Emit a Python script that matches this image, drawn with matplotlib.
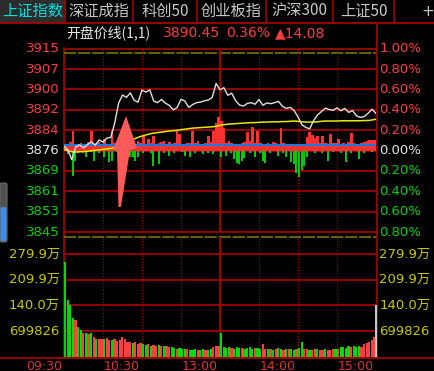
import matplotlib
matplotlib.use("Agg")
import matplotlib.pyplot as plt
import matplotlib.transforms as mtransforms
from matplotlib.patches import Polygon, Rectangle, FancyBboxPatch
import numpy as np

W, H = 435, 371

# ---- data ----
prev_close = 3876.37
last_price = 3890.45
open_price = 3878.5

tabs = ["上证指数", "深证成指", "科创50", "创业板指", "沪深300", "上证50"]
tab_edges = [0, 65, 133, 197, 266, 333, 394]

# price and average price, every 3 minutes from 09:30
price = [3878.0, 3876.6, 3872.9, 3877.7, 3878.5, 3877.4, 3878.6, 3879.7, 3878.4, 3880.4,
         3879.6, 3881.1, 3881.4, 3886.8, 3894.4, 3897.5, 3896.6, 3898.3, 3895.5, 3894.8,
         3899.4, 3898.6, 3899.5, 3895.2, 3894.6, 3895.8, 3894.4, 3893.6, 3891.9, 3892.7,
         3895.9, 3895.2, 3892.8, 3893.9, 3894.6, 3894.8, 3895.3, 3895.6, 3896.6, 3901.9,
         3899.5, 3900.3, 3897.4, 3898.2, 3895.4, 3893.7, 3893.3, 3894.3, 3894.6, 3894.0,
         3895.8, 3893.6, 3894.5, 3894.2, 3894.6, 3895.1, 3893.2, 3892.4, 3892.8, 3891.6,
         3889.2, 3886.2, 3885.2, 3884.6, 3887.8, 3889.9, 3891.2, 3892.5, 3892.0, 3891.7,
         3892.6, 3891.5, 3892.4, 3890.9, 3891.6, 3889.6, 3889.0, 3889.3, 3890.6, 3892.1,
         3890.45]
avg_price = [3876.8, 3876.3, 3875.9, 3875.8, 3875.9, 3876.0, 3876.1, 3876.3, 3876.4, 3876.6,
             3876.8, 3877.0, 3877.2, 3877.5, 3878.0, 3878.6, 3879.3, 3880.1, 3880.8, 3881.4,
             3881.9, 3882.3, 3882.7, 3883.0, 3883.2, 3883.4, 3883.6, 3883.8, 3883.9, 3884.1,
             3884.3, 3884.5, 3884.7, 3884.9, 3885.0, 3885.1, 3885.2, 3885.3, 3885.4, 3885.6,
             3886.0, 3886.2, 3886.4, 3886.5, 3886.6, 3886.7, 3886.8, 3886.9, 3887.0, 3887.0,
             3887.1, 3887.2, 3887.2, 3887.3, 3887.3, 3887.3, 3887.4, 3887.4, 3887.5, 3887.6,
             3887.5, 3887.3, 3887.2, 3887.2, 3887.2, 3887.3, 3887.5, 3887.6, 3887.6, 3887.6,
             3887.6, 3887.7, 3887.7, 3887.7, 3887.7, 3887.7, 3887.7, 3887.8, 3887.8, 3888.0,
             3888.3]

# red / green strength bars (index points), every 2 minutes
red_bars = [2.0, 2.4, 3.1, 7.4, 2.2, 2.6, 3.0, 2.1, 2.4, 3.4,
            7.4, 2.3, 2.8, 3.2, 2.5, 4.4, 2.6, 2.2, 7.4, 3.0,
            3.5, 2.7, 5.0, 3.1, 4.0, 2.4, 3.0, 2.6, 3.5, 2.8,
            5.5, 2.6, 4.4, 2.9, 5.5, 2.5, 2.8, 3.1, 3.6, 2.4,
            3.2, 2.5, 2.8, 7.4, 6.3, 2.6, 2.3, 3.0, 2.7, 7.4,
            2.9, 3.6, 2.5, 2.2, 3.0, 5.5, 3.4, 7.6, 10.6, 12.9,
            11.4, 8.4, 3.0, 3.6, 2.7, 2.3, 2.6, 2.4, 2.9, 3.2,
            7.0, 3.5, 8.9, 3.0, 7.4, 2.8, 2.3, 2.5, 2.9, 2.6,
            3.1, 2.7, 2.4, 8.6, 3.0, 2.6, 2.2, 2.5, 2.0, 1.8,
            1.9, 2.1, 2.6, 5.3, 7.2, 6.1, 4.6, 5.5, 3.0, 5.5,
            2.8, 2.5, 6.3, 2.9, 2.7, 4.4, 2.6, 2.8, 2.4, 3.1,
            6.7, 2.9, 2.6, 2.4, 3.0, 3.3, 3.6, 4.0, 4.1, 4.0]
green_bars = [0, 1.2, 0, 9.7, 4.0, 0.8, 0, 1.0, 2.5, 0,
              0.6, 4.0, 0, 0.9, 0, 2.5, 0, 4.4, 4.0, 0,
              0.7, 0, 0, 1.0, 0, 2.5, 2.5, 4.0, 2.5, 0,
              0.8, 0, 0, 1.1, 5.9, 0, 5.1, 0, 0.9, 0,
              2.1, 0, 1.0, 0, 0, 0.7, 2.1, 0, 2.5, 0,
              0.8, 0, 0, 1.3, 0, 0.9, 0, 1.3, 0, 0,
              2.5, 0, 2.1, 0, 1.0, 3.2, 4.6, 5.1, 3.8, 3.0,
              0, 0.8, 0, 2.5, 0, 1.0, 4.0, 4.6, 0, 0.9,
              0, 0, 2.1, 0, 1.0, 2.5, 0, 4.4, 5.3, 8.4,
              9.9, 7.6, 5.7, 2.5, 0, 0, 0.8, 0, 0, 1.0,
              0, 4.0, 0, 0.7, 0, 0, 1.1, 0, 4.4, 0,
              0.9, 0, 0, 3.2, 0, 0.8, 0, 0, 0.6, 0]

# volume in 万, every 2 minutes, plus the closing auction
volume = [258, 155, 140, 105, 100, 82, 73, 66, 64, 62,
          65, 54, 50, 49, 50, 48, 52, 46, 45, 48,
          44, 46, 54, 50, 42, 40, 38, 40, 36, 37,
          34, 33, 35, 31, 32, 30, 33, 29, 31, 30,
          28, 26, 24, 23, 25, 22, 21, 23, 20, 19,
          22, 20, 18, 21, 19, 20, 22, 26, 30, 29,
          64, 26, 24, 27, 25, 23, 26, 24, 25, 22,
          24, 26, 23, 25, 24, 22, 35, 22, 21, 23,
          20, 22, 24, 21, 20, 22, 23, 21, 19, 22,
          24, 40, 22, 21, 20, 19, 22, 21, 20, 18,
          21, 20, 19, 22, 21, 23, 26, 28, 25, 30,
          27, 29, 26, 31, 28, 34, 38, 42, 47, 54]
close_volume = 140
vol_up = [0, 0, 0, 0, 1, 0, 0, 1, 0, 1,
          0, 1, 0, 1, 1, 0, 1, 1, 0, 1,
          1, 1, 1, 1, 1, 1, 0, 1, 1, 1,
          0, 0, 1, 0, 1, 1, 0, 1, 0, 1,
          1, 0, 0, 1, 0, 0, 0, 1, 0, 0,
          0, 1, 0, 0, 1, 0, 0, 1, 1, 1,
          0, 0, 0, 0, 1, 0, 0, 0, 1, 0,
          0, 0, 0, 1, 0, 0, 1, 1, 0, 1,
          0, 1, 0, 0, 1, 0, 1, 0, 0, 1,
          0, 0, 1, 1, 0, 1, 1, 0, 1, 1,
          0, 1, 1, 1, 0, 1, 0, 0, 0, 0,
          1, 0, 0, 0, 1, 1, 1, 1, 1, 1]
vol_step = 699826

time_ticks = [0, 60, 120, 180, 240]
time_labels = ["09:30", "10:30", "13:00", "14:00", "15:00"]

# ---- styles ----
BG = "black"
GRID = "#a00000"
BORDER = "#b40000"
RED = "#ff3c3c"
GREEN = "#00d200"
WHITE = "#e6e6e6"
OLIVE = "#808000"
VOLTXT = "#c8c800"
NUM = ["DejaVu Sans", "Noto Sans CJK SC"]
CJK = ["Noto Sans CJK SC", "DejaVu Sans"]

mins3 = np.arange(0, 241, 3)
mins2 = np.arange(0, 240, 2)

fig = plt.figure(figsize=(W / 100, H / 100), dpi=100, facecolor=BG)


def fig_box(x0, y0, x1, y1):
    return [x0 / W, 1 - y1 / H, (x1 - x0) / W, (y1 - y0) / H]


bg = fig.add_axes([0, 0, 1, 1])
bg.set_xlim(0, W)
bg.set_ylim(H, 0)
bg.axis("off")
bg.set_zorder(0)

ax_p = fig.add_axes(fig_box(64, 48.7, 376, 232))
ax_v = fig.add_axes(fig_box(64, 237, 376, 357))
for ax in (ax_p, ax_v):
    ax.set_facecolor("none")
    ax.set_zorder(1)
    for s in ax.spines.values():
        s.set_visible(False)
    ax.set_xticks([])
    ax.set_yticks([])
    ax.set_xlim(0, 240)
    for m in [30, 60, 90, 150, 180, 210]:
        ax.axvline(m, color=GRID, lw=0.9, ls=(0, (1, 1.3)), zorder=1)
    ax.axvline(120, color=GRID, lw=1.5, zorder=1)

# ---- tab bar + header ----
bg.add_patch(Rectangle((0, 0), 65, 22, color="#2c2c2c", zorder=0))
for x in tab_edges[1:]:
    bg.plot([x, x], [0, 22], color=GRID, lw=1.2)
for i, t in enumerate(tabs):
    c = (tab_edges[i] + tab_edges[i + 1]) / 2
    bg.text(c, 11, t, color="#00e0e0" if i == 0 else "#c8c8c8", fontsize=11,
            family=CJK, ha="center", va="center")
bg.text(428, 11, "+", color="#c8c8c8", fontsize=11, ha="center", va="center")
bg.plot([0, W], [22.5, 22.5], color=BORDER, lw=1.2)

chg = last_price - prev_close
bg.text(66, 33, "开盘价线(1,1)", color=WHITE, fontsize=10, family=CJK, va="center")
bg.text(163, 33, f"{last_price:.2f}", color=RED, fontsize=10, family=NUM, va="center")
bg.text(226, 33, f"{chg / prev_close * 100:.2f}%", color=RED, fontsize=10, family=NUM, va="center")
bg.text(275, 33, f"▲{chg:.2f}", color=RED, fontsize=10, family=NUM, va="center")

# borders
bg.plot([64, 64], [48, 357], color=BORDER, lw=1.2)
bg.plot([377, 377], [23, 357], color=BORDER, lw=1.2)
bg.plot([0, W], [357.5, 357.5], color=BORDER, lw=1.2)
bg.plot([64, 376], [53, 53], color=OLIVE, lw=1.1, dashes=(8, 1.2))
bg.plot([64, 376], [237, 237], color=OLIVE, lw=1.1, dashes=(8, 1.2))

# little scroll widget on the left
bg.add_patch(FancyBboxPatch((0, 183), 7, 59, boxstyle="round,pad=0,rounding_size=2",
                            fc="#505050", ec="#6a6a6a", lw=0.8))
bg.add_patch(FancyBboxPatch((0.5, 207), 6, 34, boxstyle="round,pad=0,rounding_size=2",
                            fc="#3d8fe8", ec="none"))

# ---- price panel ----
ax_p.set_ylim(prev_close * 0.992, prev_close * 1.010)
lt = mtransforms.blended_transform_factory(ax_p.transAxes, ax_p.transData)
for k in range(-4, 6):
    lvl = prev_close * (1 + k * 0.002)
    ax_p.axhline(lvl, color=GRID, lw=1.3, clip_on=False, zorder=1)
    col = RED if k > 0 else (WHITE if k == 0 else GREEN)
    ax_p.text(-0.013, lvl, f"{lvl:.0f}", transform=lt, color=col, fontsize=9.5,
              family=NUM, ha="right", va="center")
    ax_p.text(1.01, lvl, f"{abs(k) * 0.2:.2f}%", transform=lt, color=col, fontsize=9.5,
              family=NUM, ha="left", va="center")

ax_p.bar(mins2, red_bars, bottom=prev_close, width=2.0, align="edge",
         color="#ff3030", lw=0, zorder=2)
ax_p.bar(mins2, -np.array(green_bars), bottom=prev_close, width=1.6, align="edge",
         color="#00cc00", lw=0, zorder=2)
ax_p.axhline(open_price, color="#1f78dc", lw=1.6, zorder=3)
ax_p.plot(mins3, avg_price, color="#e8e800", lw=1.1, zorder=4)
ax_p.plot(mins3, price, color="#e0e0e0", lw=1.0, zorder=5)

# hand-drawn style up arrow annotation
arrow = [(47.7, 3889.5), (56.2, 3877.3), (50.8, 3876.6), (43.8, 3854.9),
         (41.9, 3854.9), (40.8, 3876.2), (37.7, 3876.6)]
ax_p.add_patch(Polygon(arrow, closed=True, fc="#ff5a5a", ec="none", zorder=6))

# ---- volume panel ----
ax_v.set_ylim(0, 3.26e6)
vt = mtransforms.blended_transform_factory(ax_v.transAxes, ax_v.transData)
for k in range(1, 5):
    lvl = vol_step * k
    ax_v.axhline(lvl, color=GRID, lw=1.3, zorder=1)
    lab = f"{lvl}" if k == 1 else f"{lvl / 1e4:.1f}万"
    ax_v.text(-0.013, lvl, lab, transform=vt, color=VOLTXT, fontsize=9.5,
              family=NUM, ha="right", va="center")
    ax_v.text(1.01, lvl, lab, transform=vt, color=VOLTXT, fontsize=9.5,
              family=NUM, ha="left", va="center")

vcols = ["#ff4040" if u else "#00dc00" for u in vol_up]
ax_v.bar(mins2, np.array(volume) * 1e4, width=1.7, align="edge", color=vcols, lw=0, zorder=2)
ax_v.bar(240, close_volume * 1e4, width=1.2, color="#c8c8c8", lw=0, zorder=2, clip_on=False)

tt = mtransforms.offset_copy(
    mtransforms.blended_transform_factory(ax_v.transData, ax_v.transAxes), fig, x=-2, units="dots")
for m, lab in zip(time_ticks, time_labels):
    ax_v.text(m, -0.075, lab, transform=tt, color="#e03030", fontsize=9,
              family=NUM, ha="right", va="center")

fig.savefig("out.png", dpi=100, facecolor=BG)
